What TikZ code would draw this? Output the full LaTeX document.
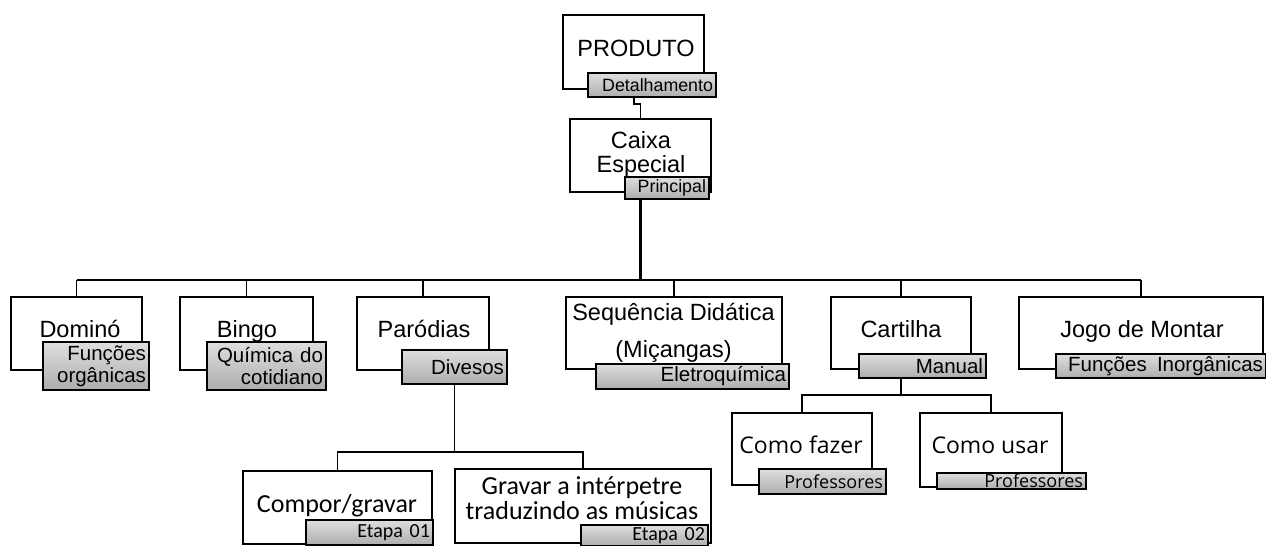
\documentclass[tikz,border=0pt]{standalone}
\usepackage{fontspec}
\setmainfont{Liberation Sans}
\newfontfamily\calibrifont{Carlito}
\newfontfamily\opensansfont{Open Sans}

\begin{document}
\begin{tikzpicture}[x=1pt,y=-1pt,
    box/.style={draw, fill=white, line width=1.6pt, inner sep=0pt},
    tab/.style={draw, line width=1.6pt, top color=black!13, bottom color=black!32,
        inner xsep=3pt, inner ysep=0pt, align=right, font=\fontsize{20.5}{22}\selectfont},
    lbl/.style={anchor=base, font=\fontsize{23.5}{24}\selectfont},
    link/.style={line width=1.6pt},
    busline/.style={line width=2pt},
    trunk/.style={line width=3.2pt}]
    \useasboundingbox (0,0) rectangle (1266,546);

    \node[box, minimum width=141, minimum height=74] (produto) at (633.5,52) {};
    \node[lbl] (produto-t) at (636,56) {PRODUTO};
    \node[tab, text width=122, minimum height=24, font=\fontsize{17.8}{19}\selectfont] (detalhamento) at (652,85) {Detalhamento};

    \node[box, minimum width=141, minimum height=73] (caixa) at (640.5,155.5) {};
    \node[align=center, font=\fontsize{23.5}{24}\selectfont] (caixa-t) at (641,154.3) {Caixa\\Especial};
    \node[tab, text width=78, minimum height=22, font=\fontsize{17.8}{19}\selectfont] (principal) at (667,188) {Principal};

    \node[box, minimum width=131, minimum height=73] (domino) at (76.5,333.5) {};
    \node[lbl] (domino-t) at (80,337) {Dominó};
    \node[tab, text width=100, minimum height=48] (organicas) at (96,366) {Funções\\orgânicas};

    \node[box, minimum width=133, minimum height=73] (bingo) at (246.5,333.5) {};
    \node[lbl] (bingo-t) at (247,337) {Bingo};
    \node[tab, text width=113, minimum height=48] (cotidiano) at (266.5,366) {Química do\\cotidiano};

    \node[box, minimum width=132, minimum height=73] (parodias) at (423,333.5) {};
    \node[lbl] (parodias-t) at (424,337) {Paródias};
    \node[tab, text width=99, minimum height=34] (divesos) at (454.5,367) {Divesos};

    \node[box, minimum width=216, minimum height=72] (sequencia) at (674,333) {};
    \node[align=center, font=\fontsize{23.5}{37}\selectfont] (sequencia-t) at (673.5,332.6) {Sequência Didática\\(Miçangas)};
    \node[tab, text width=187, minimum height=25] (eletroquimica) at (692.5,376.5) {Eletroquímica};

    \node[box, minimum width=140, minimum height=72] (cartilha) at (901,333) {};
    \node[lbl] (cartilha-t) at (901,337) {Cartilha};
    \node[tab, text width=121, minimum height=24] (manual) at (922.5,366) {Manual};

    \node[box, minimum width=244, minimum height=72] (jogo) at (1141,333) {};
    \node[lbl] (jogo-t) at (1142,337) {Jogo de Montar};
    \node[tab, text width=204, minimum height=24] (inorganicas) at (1161,366) {Funções\enspace Inorgânicas};

    \node[box, minimum width=189, minimum height=73] (compor) at (337.5,507.5) {};
    \node[lbl, font=\calibrifont\fontsize{26}{25}\selectfont] (compor-t) at (337,512) {Compor/gravar};
    \node[tab, text width=121, minimum height=25, font=\calibrifont\fontsize{20}{22}\selectfont] (etapa1) at (369.5,532.5) {Etapa 01};

    \node[box, minimum width=256, minimum height=74] (gravar) at (583,506) {};
    \node[align=center, font=\calibrifont\fontsize{26}{25}\selectfont] (gravar-t) at (582,498.5) {Gravar a intérpetre\\traduzindo as músicas};
    \node[tab, text width=121, minimum height=21, font=\calibrifont\fontsize{20}{22}\selectfont] (etapa2) at (644.5,535.5) {Etapa 02};

    \node[box, minimum width=140, minimum height=72] (fazer) at (802,449) {};
    \node[lbl, font=\opensansfont\fontsize{23}{24}\selectfont] (fazer-t) at (801,453) {Como fazer};
    \node[tab, text width=121, minimum height=25, font=\opensansfont\fontsize{18}{20}\selectfont] (professores1) at (822.5,481.5) {Professores};

    \node[box, minimum width=142, minimum height=74] (usar) at (991,450) {};
    \node[lbl, font=\opensansfont\fontsize{23}{24}\selectfont] (usar-t) at (990,453) {Como usar};
    \node[tab, text width=143, minimum height=16, font=\opensansfont\fontsize{18}{20}\selectfont] (professores2) at (1011.5,481) {Professores};

    \draw[link] ([xshift=-18]detalhamento.south) -- ++(0,6) -| (caixa.north);

    \coordinate (bus) at (640.5,280);
    \draw[trunk] (principal.south -| bus) -- (bus);
    \draw[busline] (domino.north |- bus) -- (jogo.north |- bus);
    \draw[link] (domino.north |- bus) -- (domino.north);
    \draw[link] (bingo.north |- bus) -- (bingo.north);
    \draw[link] (parodias.north |- bus) -- (parodias.north);
    \draw[link] (sequencia.north |- bus) -- (sequencia.north);
    \draw[link] (cartilha.north |- bus) -- (cartilha.north);
    \draw[link] (jogo.north |- bus) -- (jogo.north);

    \coordinate (pj) at (454.5,452);
    \draw[link] (divesos.south) -- (pj);
    \draw[link] (compor.north) |- (pj) -| (gravar.north);

    \coordinate (cj) at (901,395);
    \draw[link] (manual.south -| cj) -- (cj);
    \draw[link] (fazer.north) |- (cj) -| (usar.north);

\end{tikzpicture}
\end{document}
